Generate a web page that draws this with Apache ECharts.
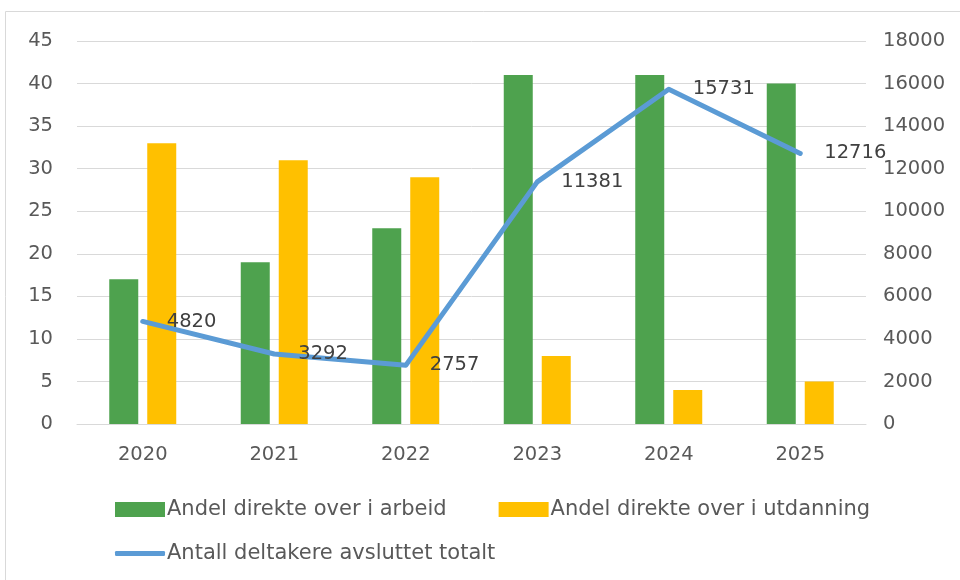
<!DOCTYPE html>
<html>
<head>
<meta charset="utf-8">
<script src="https://cdn.jsdelivr.net/npm/echarts@6/dist/echarts.min.js"></script>
<style>
  html, body { margin: 0; padding: 0; background: #fff; }
  #chart { width: 960px; height: 580px; }
</style>
</head>
<body>
<div id="chart"></div>
<script>
  const years = ["2020", "2021", "2022", "2023", "2024", "2025"];
  const arbeid = [17, 19, 23, 41, 41, 40];
  const utdanning = [33, 31, 29, 8, 4, 5];
  const totalt = [4820, 3292, 2757, 11381, 15731, 12716];

  const txt = "#595959";
  const dark = "#404040";
  const font = "DejaVu Sans";
  const chart = echarts.init(document.getElementById("chart"));

  chart.setOption({
    animation: false,
    textStyle: {fontFamily: font},
    graphic: [{
      type: "rect",
      shape: {x: 5.5, y: 11.5, width: 970, height: 590},
      style: {fill: "none", stroke: "#d9d9d9", lineWidth: 1}
    }],
    grid: {left: 77, right: 94, top: 41, bottom: 156, containLabel: false},
    legend: [{
      left: 110, top: 494,
      itemWidth: 50, itemHeight: 15, itemGap: 52,
      icon: "rect",
      textStyle: {fontFamily: font, fontSize: 21, color: txt, padding: [0, 0, 0, -3]},
      data: ["Andel direkte over i arbeid", "Andel direkte over i utdanning"]
    }, {
      left: 110, top: 538,
      itemWidth: 50, itemHeight: 5,
      icon: "roundRect",
      textStyle: {fontFamily: font, fontSize: 21, color: txt, padding: [0, 0, 0, -3]},
      data: ["Antall deltakere avsluttet totalt"]
    }],
    xAxis: {
      type: "category",
      data: years,
      axisLine: {lineStyle: {color: "#d9d9d9", width: 1}},
      axisTick: {show: false},
      axisLabel: {color: txt, fontSize: 19.5, fontFamily: font, margin: 21}
    },
    yAxis: [{
      type: "value", min: 0, max: 45, interval: 5,
      axisLine: {show: false}, axisTick: {show: false},
      splitLine: {lineStyle: {color: "#d9d9d9", width: 1}},
      axisLabel: {color: txt, fontSize: 19.5, fontFamily: font, margin: 24}
    }, {
      type: "value", min: 0, max: 18000, interval: 2000,
      axisLine: {show: false}, axisTick: {show: false},
      splitLine: {show: false},
      axisLabel: {color: txt, fontSize: 19.5, fontFamily: font, margin: 17, formatter: v => String(v)}
    }],
    series: [{
      name: "Andel direkte over i arbeid",
      type: "bar",
      data: arbeid,
      itemStyle: {color: "#4ea24e"},
      barWidth: 29,
      barGap: "31%"
    }, {
      name: "Andel direkte over i utdanning",
      type: "bar",
      data: utdanning,
      itemStyle: {color: "#ffc000"},
      barWidth: 29
    }, {
      name: "Antall deltakere avsluttet totalt",
      type: "line",
      yAxisIndex: 1,
      data: totalt,
      symbol: "circle",
      symbolSize: 0.1,
      showSymbol: true,
      itemStyle: {color: "#5b9bd5"},
      lineStyle: {color: "#5b9bd5", width: 5, cap: "round", join: "round"},
      label: {
        show: true, position: "right", distance: 24,
        color: dark, fontSize: 19.5, fontFamily: font,
        offset: [0, 2]
      },
      labelLayout: {hideOverlap: false},
      z: 5
    }]
  });
</script>
</body>
</html>
